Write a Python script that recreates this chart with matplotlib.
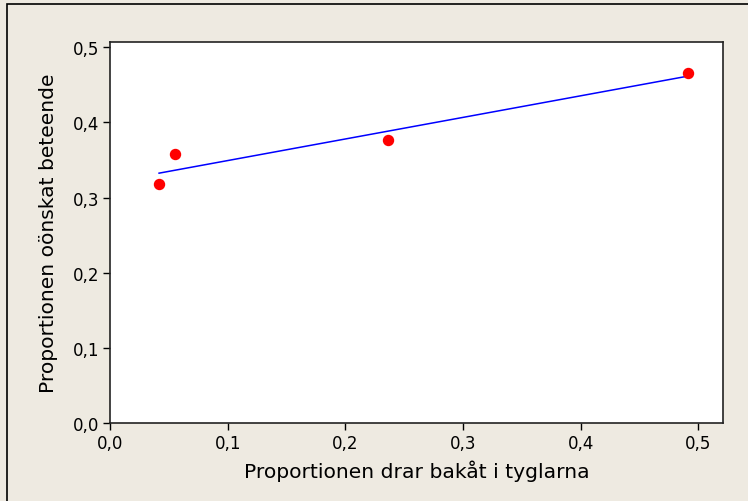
import numpy as np
import matplotlib.pyplot as plt
from matplotlib.ticker import FuncFormatter
from matplotlib.patches import Rectangle

drar_bakat = [0.0417, 0.0553, 0.2367, 0.4915]
onskat = [0.318, 0.358, 0.377, 0.466]
ticks = [0.0, 0.1, 0.2, 0.3, 0.4, 0.5]

bg = '#EEEAE1'
fig = plt.figure(figsize=(7.48, 5.02), dpi=100, facecolor=bg)
# figure frame (only left/top visible in the reference crop)
fig.add_artist(Rectangle((7 / 748, -0.1), 1.2, (502 - 5) / 502 + 0.1, transform=fig.transFigure,
                         fill=False, edgecolor='black', linewidth=1.2))

ax = fig.add_axes([110 / 748, (502 - 424) / 502, (723 - 110) / 748, (424 - 43) / 502])
ax.set_facecolor('white')

slope, intercept = np.polyfit(drar_bakat, onskat, 1)
xs = np.array([min(drar_bakat), max(drar_bakat)])
ax.plot(xs, intercept + slope * xs, color='#0000FF', linewidth=1.1, zorder=2)
ax.plot(drar_bakat, onskat, 'o', color='#FF0000', markersize=7.2, zorder=3)

ax.set_xlim(0, 0.521)
ax.set_ylim(0, 0.507)
ax.set_xticks(ticks)
ax.set_yticks(ticks)
fmt = FuncFormatter(lambda v, p: f'{v:.1f}'.replace('.', ','))
ax.xaxis.set_major_formatter(fmt)
ax.yaxis.set_major_formatter(fmt)
ax.tick_params(direction='out', length=5, width=1, labelsize=12, colors='black', pad=3)

for s in ax.spines.values():
    s.set_linewidth(1.2)
    s.set_color('#222222')

ax.set_xlabel('Proportionen drar bakåt i tyglarna', fontsize=14.6, labelpad=5)
ax.set_ylabel('Proportionen oönskat beteende', fontsize=14.6, labelpad=10)

fig.savefig('out.png', dpi=100, facecolor=bg)
